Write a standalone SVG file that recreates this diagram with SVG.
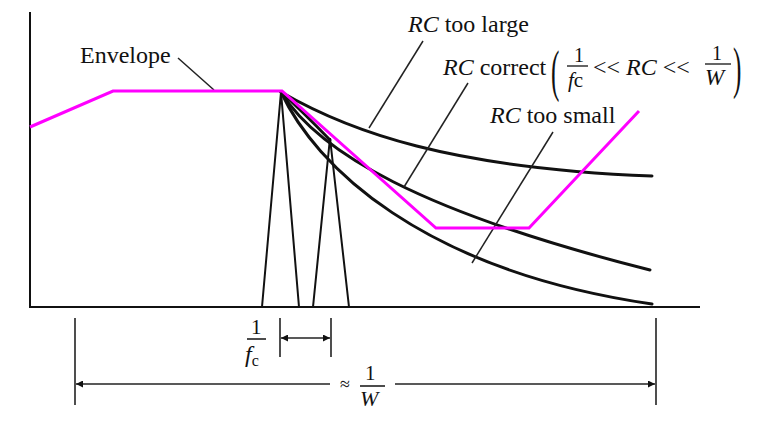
<svg xmlns="http://www.w3.org/2000/svg" width="779" height="428" viewBox="0 0 779 428">
<defs>
<style>
text{font-family:"Liberation Serif","Times New Roman",serif;fill:#111;}
.lbl{font-size:24px;}
.it{font-style:italic;}
.ax{stroke:#111;stroke-width:2;fill:none;}
.crv{stroke:#111;stroke-width:3;fill:none;stroke-linecap:round;}
.pulse{stroke:#111;stroke-width:2;fill:none;stroke-linejoin:miter;}
.lead{stroke:#222;stroke-width:1.5;fill:none;}
.env{stroke:#ff00ff;stroke-width:3;fill:none;stroke-linejoin:miter;}
.dim{stroke:#222;stroke-width:1.6;fill:none;}
</style>
<marker id="ah" viewBox="0 0 10 10" refX="10" refY="5" markerWidth="10" markerHeight="7" markerUnits="userSpaceOnUse" orient="auto-start-reverse">
<path d="M0,0 L10,5 L0,10 z" fill="#111"/>
</marker>
</defs>
<rect width="779" height="428" fill="#fff"/>
<g id="axes">
<line class="ax" x1="30" y1="12" x2="30" y2="308"/>
<line class="ax" x1="30" y1="307" x2="700" y2="307"/>
</g>
<g id="connectors">
<path id="pulse1" class="pulse" d="M262,307 L281,92 L299,307"/>
<path id="pulse2" class="pulse" d="M313,307 L330,138 L349,307"/>
<path id="decay-to-pulse2" class="crv" d="M281,92 Q303,112 330,140"/>
<path id="rc-large" class="crv" d="M281,92 C350,132 450,168 652,176"/>
<path id="rc-correct" class="crv" d="M281,92 C318,152 420,212 650,270"/>
<path id="rc-small" class="crv" d="M281,92 C315,165 420,270 652,304"/>
<line class="lead" x1="178" y1="58" x2="214" y2="90"/>
<line class="lead" x1="423" y1="41" x2="369" y2="128"/>
<line class="lead" x1="468" y1="83" x2="404" y2="187"/>
<line class="lead" x1="553" y1="132" x2="472" y2="263"/>
</g>
<g id="envelope">
<polyline class="env" points="30,127 113,91 282,91 436,228 529,228 639,111"/>
<text class="lbl" x="80" y="63">Envelope</text>
</g>
<g id="label-rc-large">
<text class="lbl" x="408" y="32"><tspan class="it">RC</tspan> too large</text>
</g>
<g id="label-rc-correct">
<text class="lbl" x="443" y="75"><tspan class="it">RC</tspan> correct</text>
<text transform="translate(551,90) scale(0.45,1)" style="font-size:56px">(</text>
<text x="574" y="62" style="font-size:20px">1</text>
<line x1="567" y1="66" x2="588" y2="66" stroke="#111" stroke-width="1.3"/>
<text x="568" y="87" style="font-size:21px"><tspan class="it">f</tspan>c</text>
<text class="lbl" x="593" y="75">&lt;&lt; <tspan class="it">RC</tspan> &lt;&lt;</text>
<text x="712" y="60" style="font-size:20px">1</text>
<line x1="705" y1="64" x2="731" y2="64" stroke="#111" stroke-width="1.3"/>
<text class="it" x="705" y="85" style="font-size:23px">W</text>
<text transform="translate(733,87) scale(0.45,1)" style="font-size:56px">)</text>
</g>
<g id="label-rc-small">
<text class="lbl" x="490" y="123"><tspan class="it">RC</tspan> too small</text>
</g>
<g id="dim-fc">
<line class="dim" x1="280" y1="318" x2="280" y2="357"/>
<line class="dim" x1="331" y1="318" x2="331" y2="357"/>
<line class="dim" x1="281" y1="338" x2="330" y2="338" marker-start="url(#ah)" marker-end="url(#ah)"/>
<text x="251" y="334" style="font-size:21px">1</text>
<line x1="247" y1="339" x2="266" y2="339" stroke="#111" stroke-width="1.5"/>
<text x="245" y="362" style="font-size:24px"><tspan class="it">f</tspan><tspan style="font-size:16px" dy="4">c</tspan></text>
</g>
<g id="dim-w">
<line class="dim" x1="75" y1="318" x2="75" y2="405"/>
<line class="dim" x1="656" y1="318" x2="656" y2="405"/>
<line class="dim" x1="76" y1="384" x2="330" y2="384" marker-start="url(#ah)"/>
<line class="dim" x1="395" y1="384" x2="655" y2="384" marker-end="url(#ah)"/>
<text x="340" y="390" style="font-size:18px">≈</text>
<text x="365" y="380" style="font-size:21px">1</text>
<line x1="360" y1="386" x2="385" y2="386" stroke="#111" stroke-width="1.5"/>
<text class="it" x="360" y="406" style="font-size:22px">W</text>
</g>
</svg>
